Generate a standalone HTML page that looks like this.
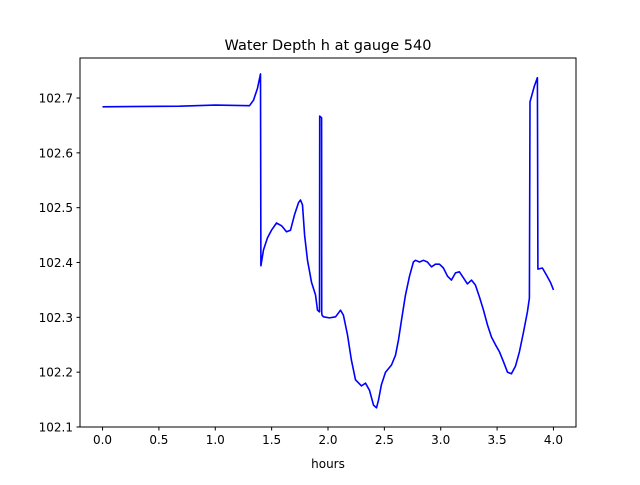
<!DOCTYPE html>
<html><head><meta charset="utf-8"><style>
body{margin:0;background:#fff}
svg{font-family:"DejaVu Sans","Liberation Sans",sans-serif}
</style></head><body>
<svg id="chart" width="640" height="480">
<text x="328" y="50" font-size="14.5" text-anchor="middle">Water Depth h at gauge 540</text>
<text x="328" y="468" font-size="12" text-anchor="middle">hours</text>
<g id="ticks"></g>
<path id="series" fill="none" stroke="#0000ff" stroke-width="1.6" stroke-linejoin="round"></path>
<rect x="80" y="58" width="496" height="369" fill="none" stroke="#000" stroke-width="1"/>
</svg>
<script>
const hours=[0,0.683,1.0,1.304,1.339,1.375,1.401,1.405,1.428,1.463,1.499,1.543,1.588,1.632,1.667,1.703,1.738,1.756,1.774,1.792,1.818,1.854,1.889,1.907,1.925,1.926,1.943,1.944,1.947,1.960,2.013,2.067,2.111,2.137,2.173,2.208,2.244,2.297,2.333,2.368,2.404,2.430,2.448,2.474,2.510,2.563,2.599,2.625,2.652,2.687,2.723,2.758,2.776,2.812,2.847,2.882,2.918,2.953,2.989,3.024,3.060,3.095,3.131,3.166,3.202,3.237,3.273,3.308,3.344,3.379,3.415,3.450,3.486,3.521,3.557,3.592,3.627,3.663,3.698,3.734,3.769,3.787,3.792,3.831,3.858,3.862,3.902,3.938,3.973,4.0];
const depth=[102.684,102.685,102.687,102.686,102.696,102.718,102.744,102.394,102.423,102.445,102.459,102.472,102.467,102.456,102.459,102.487,102.509,102.514,102.505,102.450,102.404,102.364,102.341,102.313,102.310,102.667,102.664,102.310,102.304,102.301,102.299,102.301,102.313,102.304,102.268,102.222,102.186,102.175,102.180,102.167,102.140,102.135,102.149,102.177,102.200,102.213,102.231,102.259,102.295,102.340,102.375,102.401,102.404,102.401,102.404,102.401,102.392,102.397,102.397,102.390,102.375,102.368,102.381,102.383,102.372,102.361,102.368,102.359,102.337,102.313,102.286,102.264,102.250,102.237,102.219,102.200,102.197,102.211,102.237,102.273,102.310,102.335,102.693,102.722,102.737,102.388,102.390,102.377,102.364,102.350];
const xTicks=[0,0.5,1,1.5,2,2.5,3,3.5,4];
const xTickLabels=["0.0","0.5","1.0","1.5","2.0","2.5","3.0","3.5","4.0"];
const yTicks=[102.1,102.2,102.3,102.4,102.5,102.6,102.7];
const yTickLabels=["102.1","102.2","102.3","102.4","102.5","102.6","102.7"];
const X=v=>80+(v+0.2)/4.4*496;
const Y=v=>427-(v-102.1)*548.3;
const ns="http://www.w3.org/2000/svg";
const g=document.getElementById('ticks');
function mk(tag,attrs){const e=document.createElementNS(ns,tag);for(const k in attrs)e.setAttribute(k,attrs[k]);return e;}
xTicks.forEach((t,i)=>{
  const l=mk('line',{x1:X(t),x2:X(t),y1:427,y2:430.5,stroke:'#000'});
  
  
  g.appendChild(l);
  const tx=mk('text',{x:X(t),y:444,'font-size':12,'text-anchor':'middle'});
  tx.textContent=xTickLabels[i];
  
  
  g.appendChild(tx);
});
yTicks.forEach((t,i)=>{
  const l=mk('line',{x1:76.5,x2:80,y1:Y(t),y2:Y(t),stroke:'#000'});
  
  
  g.appendChild(l);
  const tx=mk('text',{x:73,y:Y(t)+4.5,'font-size':12,'text-anchor':'end'});
  tx.textContent=yTickLabels[i];
  
  
  g.appendChild(tx);
});
document.getElementById('series').setAttribute('d',hours.map((t,i)=>(i?'L':'M')+X(t).toFixed(1)+' '+Y(depth[i]).toFixed(1)).join(' '));
</script>
</body></html>
